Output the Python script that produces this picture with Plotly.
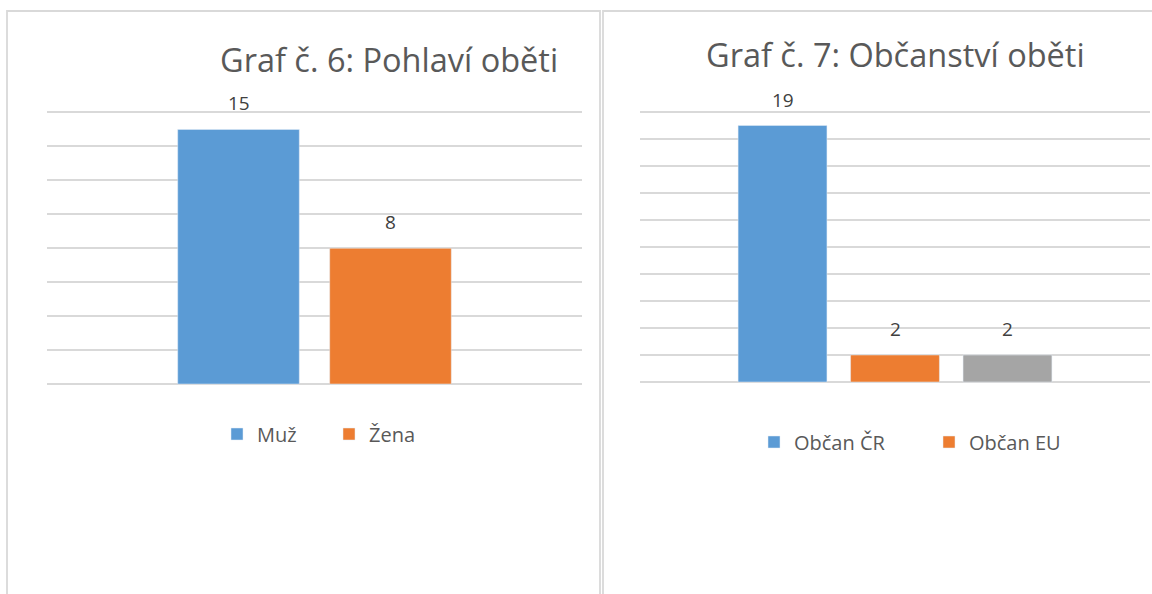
import plotly.graph_objects as go

W, H = 1152, 594

# ---- data ----
sex_categories = ["Muž", "Žena"]
sex_values = [15, 8]
cit_categories = ["Občan ČR", "Občan EU", "Občan třetí země"]
cit_values = [19, 2, 2]
cit_in_legend = [True, True, False]

title6 = "Graf č. 6: Pohlaví oběti"
title7 = "Graf č. 7: Občanství oběti"

colors = ["#5B9BD5", "#ED7D31", "#A5A5A5"]
TXT = "#595959"
GRID = "#D9D9D9"
FONT = "Open Sans"


def px_x(p):
    return p / W


def px_y(p):
    return 1 - p / H


fig = go.Figure()

for i, (c, v) in enumerate(zip(sex_categories, sex_values)):
    fig.add_trace(go.Bar(x=[c], y=[v], name=c, marker_color=colors[i], width=0.8,
                         xaxis="x", yaxis="y", legend="legend", hoverinfo="x+y"))
for i, (c, v) in enumerate(zip(cit_categories, cit_values)):
    fig.add_trace(go.Bar(x=[c], y=[v], name=c, marker_color=colors[i], width=0.79,
                         xaxis="x2", yaxis="y2", legend="legend2",
                         showlegend=cit_in_legend[i], hoverinfo="x+y"))

annotations = []
for c, v in zip(sex_categories, sex_values):
    annotations.append(dict(x=c, y=v, xref="x", yref="y", text=str(v), showarrow=False,
                            yanchor="middle", yshift=26,
                            font=dict(family=FONT, size=19, color="#404040")))
for c, v in zip(cit_categories, cit_values):
    annotations.append(dict(x=c, y=v, xref="x2", yref="y2", text=str(v), showarrow=False,
                            yanchor="middle", yshift=26,
                            font=dict(family=FONT, size=19, color="#404040")))

annotations.append(dict(x=px_x(389), y=px_y(59), xref="paper", yref="paper", text=title6,
                        showarrow=False, xanchor="center", yanchor="middle",
                        font=dict(family=FONT, size=32.5, color=TXT)))
annotations.append(dict(x=px_x(895), y=px_y(55), xref="paper", yref="paper", text=title7,
                        showarrow=False, xanchor="center", yanchor="middle",
                        font=dict(family=FONT, size=32.5, color=TXT)))

# axis geometry
l_y0, l_ppu = 384, (384 - 112.5) / 16
r_y0, r_ppu = 382, (382 - 112) / 20
l_rng = [-0.05, 16.2]
r_rng = [-0.05, 20.2]

axis_common = dict(tick0=0, dtick=2, showgrid=True, gridcolor=GRID, gridwidth=1.5,
                   zeroline=True, zerolinecolor=GRID, zerolinewidth=1.5,
                   showticklabels=False, ticks="", fixedrange=True)

fig.update_layout(
    width=W, height=H,
    margin=dict(l=0, r=0, t=0, b=0),
    paper_bgcolor="white", plot_bgcolor="white",
    barmode="relative",
    showlegend=True,
    font=dict(family=FONT, color=TXT),
    xaxis=dict(domain=[px_x(47), px_x(582)], type="category",
               categoryorder="array", categoryarray=sex_categories,
               range=[-1.26, 2.26], showticklabels=False, showgrid=False,
               zeroline=False, showline=False, ticks="", fixedrange=True),
    yaxis=dict(domain=[px_y(l_y0 - l_rng[0] * l_ppu), px_y(l_y0 - l_rng[1] * l_ppu)],
               range=l_rng, anchor="x", **axis_common),
    xaxis2=dict(domain=[px_x(640), px_x(1150)], type="category",
                categoryorder="array", categoryarray=cit_categories,
                range=[-1.267, 3.267], showticklabels=False, showgrid=False,
                zeroline=False, showline=False, ticks="", anchor="y2", fixedrange=True),
    yaxis2=dict(domain=[px_y(r_y0 - r_rng[0] * r_ppu), px_y(r_y0 - r_rng[1] * r_ppu)],
                range=r_rng, anchor="x2", **axis_common),
    legend=dict(orientation="h", x=px_x(217), y=px_y(434), xanchor="left", yanchor="middle",
                font=dict(family=FONT, size=20, color=TXT), entrywidth=67,
                bgcolor="rgba(0,0,0,0)"),
    legend2=dict(orientation="h", x=px_x(754), y=px_y(442), xanchor="left", yanchor="middle",
                 font=dict(family=FONT, size=20, color=TXT), entrywidth=130,
                 bgcolor="rgba(0,0,0,0)"),
    annotations=annotations,
    shapes=[
        dict(type="rect", xref="paper", yref="paper", x0=px_x(7), x1=px_x(600),
             y0=px_y(11), y1=px_y(600), line=dict(color=GRID, width=1.8), layer="below"),
        dict(type="rect", xref="paper", yref="paper", x0=px_x(603), x1=px_x(1160),
             y0=px_y(11), y1=px_y(600), line=dict(color=GRID, width=1.8), layer="below"),
    ],
)

fig.write_html("out.html", config={"displayModeBar": False},
               post_script="document.body.style.margin='0px';document.body.style.overflow='hidden';")
